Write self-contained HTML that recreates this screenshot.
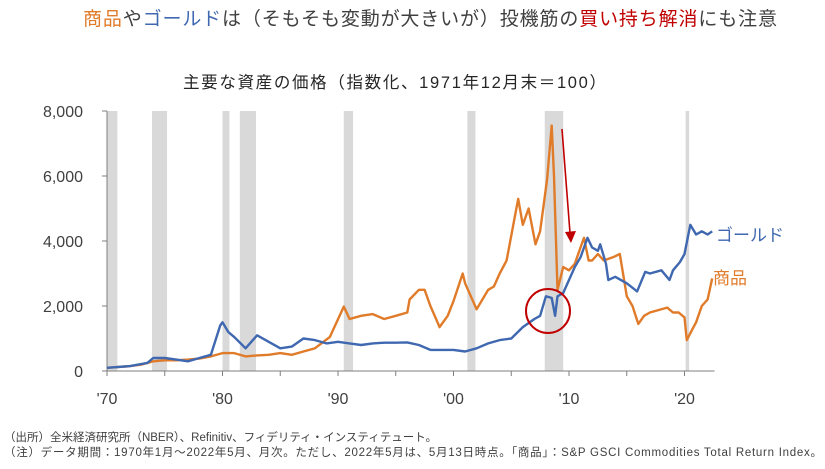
<!DOCTYPE html>
<html><head><meta charset="utf-8">
<style>
body{margin:0;background:#fff;width:825px;height:464px;overflow:hidden;font-family:"Liberation Sans","Noto Sans CJK JP",sans-serif;}
</style></head>
<body>
<svg id="chart" width="825" height="464" viewBox="0 0 825 464" xmlns="http://www.w3.org/2000/svg" font-family="Liberation Sans, Noto Sans CJK JP, sans-serif">
<text x="83" y="25" font-size="19" fill="#404040" textLength="694"><tspan fill="#E07B2A">商品</tspan>や<tspan fill="#3F68B0">ゴールド</tspan>は（そもそも変動が大きいが）投機筋の<tspan fill="#C00000">買い持ち解消</tspan>にも注意</text>
<text x="183" y="88" font-size="16.5" fill="#262626" textLength="423">主要な資産の価格（指数化、1971年12月末＝100）</text>
<g id="rec"></g>
<g id="axes"></g>
<g id="lines"></g>
<text x="716" y="241" font-size="17" fill="#3F68B0">ゴールド</text>
<text x="713" y="284" font-size="17" fill="#E07B2A">商品</text>
<circle cx="548" cy="311" r="22" fill="none" stroke="#C00000" stroke-width="2"/>
<line x1="562" y1="129" x2="570" y2="233" stroke="#C00000" stroke-width="1.6"/>
<polygon points="565,232 576,231 571,243" fill="#C00000"/>
<text x="4" y="441" font-size="11.5" fill="#404040" textLength="433">（出所）全米経済研究所（NBER）、Refinitiv、フィデリティ・インスティテュート。</text>
<text x="4" y="456" font-size="11.5" fill="#404040" textLength="818">（注）データ期間：1970年1月～2022年5月、月次。ただし、2022年5月は、5月13日時点。「商品」：S&amp;P GSCI Commodities Total Return Index。</text>
</svg>
<script>
const yTicks=[0,2000,4000,6000,8000];
const yTickLabels=["0","2,000","4,000","6,000","8,000"];
const xTickYears=[1970,1975,1980,1985,1990,1995,2000,2005,2010,2015,2020];
const xLabelYears=[1970,1980,1990,2000,2010,2020];
const xLabels=["'70","'80","'90","'00","'10","'20"];
const recStart=[1970.0,1973.9,1980.0,1981.5,1990.5,2001.2,2007.9,2020.1];
const recEnd=[1970.9,1975.2,1980.6,1982.9,1991.3,2001.9,2009.5,2020.4];
const goldYears=[1970,1972,1973.5,1974,1975,1976,1977,1978,1979,1979.8,1980,1980.5,1981,1982,1983,1984,1985,1986,1987,1988,1989,1990,1991,1992,1993,1994,1995,1996,1997,1998,1999,2000,2001,2002,2003,2004,2005,2006,2007,2007.5,2008,2008.5,2008.8,2009,2009.5,2010,2010.5,2011,2011.6,2012,2012.5,2012.7,2013.2,2013.4,2014,2015,2015.9,2016.6,2017,2018,2018.7,2019,2019.6,2020,2020.5,2021,2021.5,2022,2022.4];
const goldValues=[100,150,250,400,400,350,300,400,500,1400,1500,1200,1050,700,1100,900,700,750,1000,950,850,900,850,800,850,870,870,880,800,650,650,650,600,700,850,950,1000,1350,1600,1700,2300,2250,1700,2300,2400,2800,3200,3500,4100,3800,3700,3900,3300,2800,2900,2700,2450,3050,3000,3100,2800,3100,3350,3600,4500,4200,4300,4200,4300];
const comYears=[1970,1972,1973,1974,1975,1976,1977,1978,1979,1980,1981,1982,1983,1984,1985,1986,1987,1988,1989.3,1990.5,1991,1992,1993,1994,1995,1996,1996.2,1997,1997.5,1998,1998.8,1999.5,2000,2000.8,2001,2002,2002.5,2003,2003.5,2004,2004.6,2005.6,2006,2006.5,2007.1,2007.5,2008.1,2008.5,2008.7,2009,2009.5,2010,2010.5,2011,2011.3,2011.7,2012,2012.5,2013,2013.8,2014.4,2015,2015.5,2016,2016.5,2017,2018.5,2019,2019.5,2020,2020.2,2020.7,2021,2021.5,2022,2022.4];
const comValues=[100,150,200,300,330,330,350,380,450,550,550,450,480,500,550,500,600,700,1050,1980,1600,1700,1750,1600,1700,1800,2200,2500,2500,2000,1350,1700,2150,3000,2700,1900,2200,2500,2600,3000,3400,5300,4500,5000,3900,4300,5900,7550,6000,2500,3200,3100,3300,3800,4100,3400,3400,3600,3400,3500,3600,2300,2000,1450,1700,1800,1950,1800,1800,1650,950,1300,1500,2000,2200,2850];
const NS='http://www.w3.org/2000/svg';
const X0=107,PXY=11.55,Y0=371,PXV=0.0325;
function xs(y){return X0+(y-1970)*PXY;}
function ys(v){return Y0-v*PXV;}
function mk(tag,attrs,parent){const e=document.createElementNS(NS,tag);for(const k in attrs)e.setAttribute(k,attrs[k]);parent.appendChild(e);return e;}
const rec=document.getElementById('rec'),axes=document.getElementById('axes'),lines=document.getElementById('lines');
recStart.forEach((s,i)=>{
  const r=mk('rect',{x:xs(s),y:ys(8000),width:xs(recEnd[i])-xs(s),height:ys(0)-ys(8000),fill:'#D9D9D9'},rec);
  
  
});
const ya=mk('line',{x1:X0,y1:ys(8000),x2:X0,y2:ys(0),stroke:'#7f7f7f','stroke-width':1},axes);


const xa=mk('line',{x1:X0,y1:ys(0),x2:xs(2022.6),y2:ys(0),stroke:'#7f7f7f','stroke-width':1},axes);


yTicks.forEach((t,i)=>{
  mk('line',{x1:X0-5,y1:ys(t),x2:X0,y2:ys(t),stroke:'#7f7f7f'},axes);
  const tx=mk('text',{x:83,y:ys(t)+6,'text-anchor':'end','font-size':16,fill:'#404040'},axes);
  tx.textContent=yTickLabels[i];
  
  
});
xTickYears.forEach(y=>{mk('line',{x1:xs(y),y1:ys(0),x2:xs(y),y2:ys(0)+5,stroke:'#7f7f7f'},axes);});
xLabelYears.forEach((y,i)=>{
  const tx=mk('text',{x:xs(y),y:404,'text-anchor':'middle','font-size':16,fill:'#404040'},axes);
  tx.textContent=xLabels[i];
  
  
});
function path(yrs,vals,col,name){
  const d=yrs.map((y,i)=>(i?'L':'M')+xs(y).toFixed(1)+','+ys(vals[i]).toFixed(1)).join('');
  const p=mk('path',{d:d,fill:'none',stroke:col,'stroke-width':2.4,'stroke-linejoin':'round'},lines);
  
  
}
path(comYears,comValues,'#E07B2A','commodities-line');
path(goldYears,goldValues,'#3F68B0','gold-line');
</script>
</body></html>
